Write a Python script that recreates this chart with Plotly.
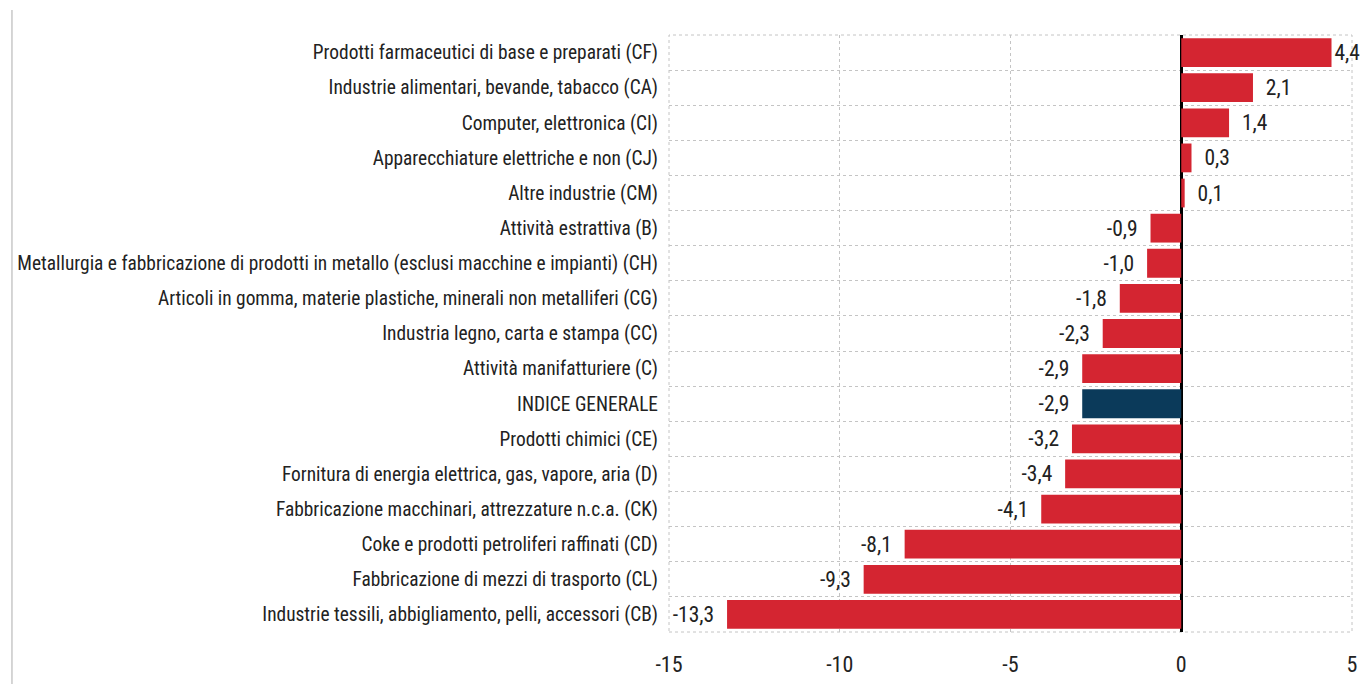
import plotly.graph_objects as go

categories = [
    "Prodotti farmaceutici di base e preparati (CF)",
    "Industrie alimentari, bevande, tabacco (CA)",
    "Computer, elettronica (CI)",
    "Apparecchiature elettriche e non (CJ)",
    "Altre industrie (CM)",
    "Attività estrattiva (B)",
    "Metallurgia e fabbricazione di prodotti in metallo (esclusi macchine e impianti) (CH)",
    "Articoli in gomma, materie plastiche, minerali non metalliferi (CG)",
    "Industria legno, carta e stampa (CC)",
    "Attività manifatturiere (C)",
    "INDICE GENERALE",
    "Prodotti chimici (CE)",
    "Fornitura di energia elettrica, gas, vapore, aria (D)",
    "Fabbricazione macchinari, attrezzature n.c.a. (CK)",
    "Coke e prodotti petroliferi raffinati (CD)",
    "Fabbricazione di mezzi di trasporto (CL)",
    "Industrie tessili, abbigliamento, pelli, accessori (CB)",
]
values = [4.4, 2.1, 1.4, 0.3, 0.1, -0.9, -1.0, -1.8, -2.3, -2.9, -2.9, -3.2, -3.4, -4.1, -8.1, -9.3, -13.3]
highlight = "INDICE GENERALE"
x_ticks = [-15, -10, -5, 0, 5]

RED = "#d42531"
NAVY = "#0b3a5a"
colors = [NAVY if c == highlight else RED for c in categories]

NB = "\u00a0"
def fmt(v):
    s = f"{v:.1f}".replace(".", ",")
    if v >= 4:
        return s
    return (NB * 2 + s) if v >= 0 else (s + NB * 2)
labels = [fmt(v) for v in values]

font_family = "Liberation Sans Narrow, Arial Narrow, Roboto Condensed, Liberation Sans, Arial, sans-serif"

fig = go.Figure(go.Bar(
    y=categories, x=values, orientation="h",
    marker=dict(color=colors, line=dict(width=0)),
    text=labels, textposition="outside", cliponaxis=False,
    textfont=dict(family=font_family, size=21.5, color="#222222"),
))

fig.update_layout(
    width=1368, height=684,
    margin=dict(l=661, r=24, t=27, b=60),
    paper_bgcolor="white", plot_bgcolor="white",
    bargap=0.18, showlegend=False,
    font=dict(family=font_family, color="#222222"),
    xaxis=dict(
        range=[-15, 5], tickvals=x_ticks, ticktext=[str(t) for t in x_ticks],
        showgrid=True, gridcolor="#c4c4c4", griddash="dot", gridwidth=1,
        zeroline=True, zerolinecolor="black", zerolinewidth=2.5,
        showline=False, ticks="", ticklabelstandoff=17, automargin=False,
        tickfont=dict(family=font_family, size=22, color="#222222"),
    ),
    yaxis=dict(
        categoryorder="array", categoryarray=categories, autorange="reversed",
        tickson="boundaries", showgrid=True, gridcolor="#c4c4c4", griddash="dot", gridwidth=1,
        showline=False, ticks="", ticklabelstandoff=10, automargin=False,
        tickfont=dict(family=font_family, size=19.4, color="#222222"),
    ),
    shapes=[
        dict(type="rect", xref="paper", yref="paper", x0=0, x1=1, y0=0, y1=1,
             line=dict(color="#c4c4c4", width=1, dash="dot"), layer="below"),
        dict(type="line", xref="paper", yref="paper", x0=-0.962, x1=-0.962, y0=1.042, y1=-0.12,
             line=dict(color="#c8c8c8", width=1.5)),
    ],
)

fig.write_html("out.html")
